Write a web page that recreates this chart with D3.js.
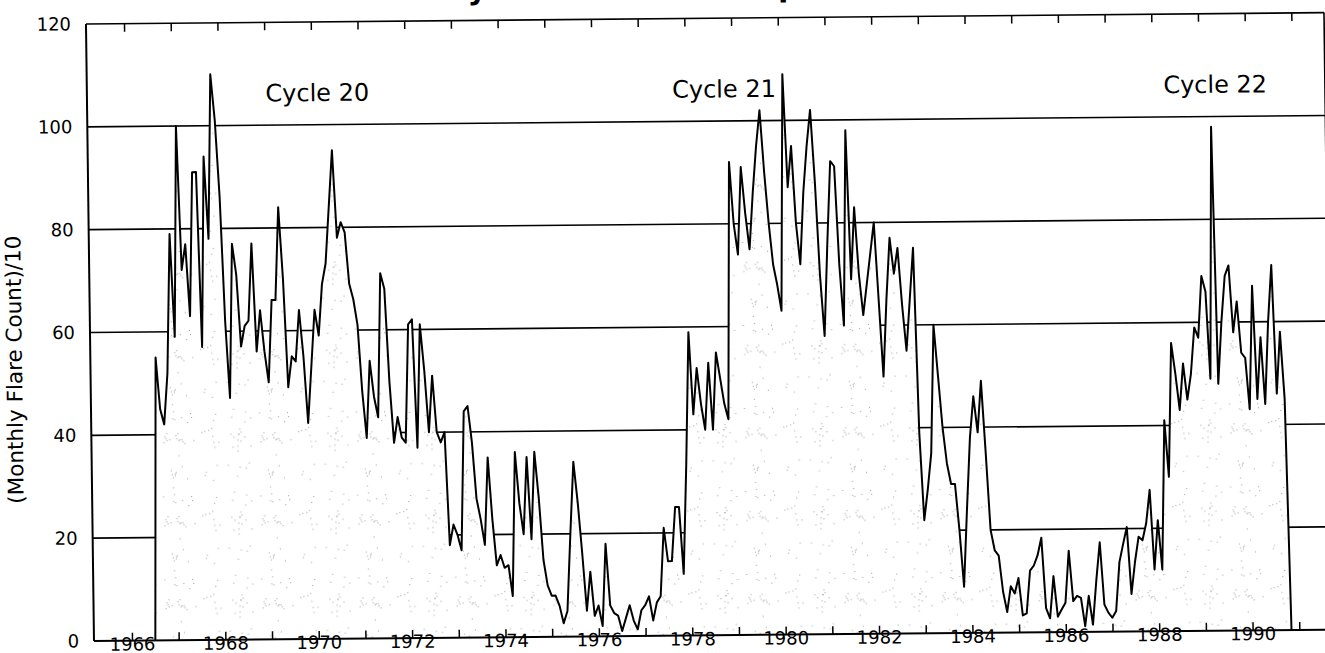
<!DOCTYPE html>
<html>
<head>
<meta charset="utf-8">
<script src="https://cdn.jsdelivr.net/npm/d3@7"></script>
<style>
  html, body { margin: 0; padding: 0; background: #fff; overflow: hidden; }
  text { font-family: "DejaVu Sans", sans-serif; fill: #000; }
</style>
</head>
<body>
<svg id="chart" width="1325" height="653"></svg>
<script>
// Monthly flare counts divided by 10, one value per month starting July 1966
const startYear = 1966;
const startMonth = 7;
const flareCounts = [
  0, 55, 45, 42, 52, 79, 59, 100, 72, 77, 63, 91,
  91, 57, 94, 78, 110, 101, 86, 62, 47, 77, 71, 57,
  61, 62, 77, 56, 64, 56, 50, 66, 66, 84, 70, 49,
  55, 54, 64, 55, 42, 53, 64, 59, 69, 73, 84, 95,
  78, 81, 79, 69, 66, 61, 48, 39, 54, 47, 43, 71,
  68, 50, 38, 43, 39, 38, 61, 62, 37, 61, 52, 40,
  51, 40, 38, 40, 18, 22, 20, 17, 44, 45, 38, 27,
  23, 18, 35, 23, 14, 16, 13.5, 14, 8, 36, 26, 20,
  35, 19, 36, 27, 15, 10, 8, 8, 6, 2.6, 5, 20,
  34, 26, 16, 5, 12.6, 4, 6, 2, 18, 6, 4.5, 4,
  1, 3.5, 6, 3, 1.3, 5, 6, 7.7, 3, 6.5, 7.7, 21,
  14.5, 14.5, 25, 25, 12, 33, 59, 43, 52, 45, 40, 53,
  40, 55, 50, 45, 42, 92, 80, 74, 91, 82, 75, 86,
  95, 102, 90, 80, 72, 68, 63, 109, 87, 95, 80, 72,
  86, 95, 102, 88, 70, 58, 76, 92, 91, 72, 60, 98,
  69, 83, 70, 62, 68, 74, 80, 65, 50, 65, 77, 70,
  75, 64, 55, 65, 75, 39, 22, 28, 35, 60, 50, 40,
  33, 29, 29, 20, 9, 24, 38, 46, 39, 49, 35, 20,
  16, 15, 8, 4, 9, 7.6, 10.6, 3.3, 3.7, 12, 13, 15,
  18.4, 4.7, 2.7, 10.9, 3, 4.4, 5.7, 15.8, 6, 7, 6.6, 1.1,
  7, 1.4, 10, 17.4, 5.3, 3.7, 2.7, 4, 13.5, 17, 20.3, 7.3,
  13.5, 18.4, 17.7, 21, 27.5, 12, 21.6, 12, 41, 30, 56, 50,
  43, 52, 45, 50, 59, 57, 69, 66, 49, 98, 48, 60,
  69, 71, 58, 64, 54, 53, 43, 67, 45, 57, 44, 60,
  71, 46, 58, 45, 0
];

const yTicks = [0, 20, 40, 60, 80, 100, 120];
const yearTicks = d3.range(1966, 1992);
const yearLabels = [1966, 1968, 1970, 1972, 1974, 1976, 1978, 1980, 1982, 1984, 1986, 1988, 1990];
const cycleNames = ["Cycle 20", "Cycle 21", "Cycle 22"];
const cycleYears = [1970.12, 1978.83, 1989.35];
const cycleLevel = 104.6;
const titleText = "Monthly Flare Count Comparison";
const yTitle = "(Monthly Flare Count)/10";

const series = flareCounts.map((v, i) => ({ t: startYear + (startMonth - 1 + i) / 12, v }));

const plot = { left: 94, right: 1332, top: 24, bottom: 641 };
const x = d3.scaleLinear().domain([1965.186, 1991.7]).range([plot.left, plot.right]);
const y = d3.scaleLinear().domain([0, 120]).range([plot.bottom, plot.top]);

const svg = d3.select("#chart");
const defs = svg.append("defs");

// light stipple texture for the area under the curve (integer hash, no lattice look)
const tileW = 97, tileH = 83, dotCount = 70;
const pat = defs.append("pattern")
  .attr("id", "stipple")
  .attr("patternUnits", "userSpaceOnUse")
  .attr("width", tileW).attr("height", tileH);
pat.append("rect").attr("width", tileW).attr("height", tileH).attr("fill", "#fff");
function hash(n) {
  n = (n ^ 61) ^ (n >>> 16);
  n = Math.imul(n, 9);
  n = n ^ (n >>> 4);
  n = Math.imul(n, 0x27d4eb2d);
  n = n ^ (n >>> 15);
  return (n >>> 0) / 4294967296;
}
d3.range(dotCount).forEach(k => {
  pat.append("rect")
    .attr("x", Math.floor(hash(k * 2 + 11) * tileW))
    .attr("y", Math.floor(hash(k * 2 + 12) * tileH))
    .attr("width", 1).attr("height", 1)
    .attr("fill", "#9c9c9c");
});

defs.append("clipPath").attr("id", "plotClip")
  .append("rect")
  .attr("x", plot.left).attr("y", plot.top)
  .attr("width", plot.right - plot.left).attr("height", plot.bottom - plot.top);

// whole figure sits on a slightly skewed page
const g = svg.append("g")
  .attr("transform",
    `translate(${plot.left},${plot.bottom}) matrix(1,-0.0092,0.013,1,0,0) translate(${-plot.left},${-plot.bottom})`);

// title (runs off the top edge of the page)
g.append("text")
  .attr("x", 358).attr("y", 2.5)
  .style("font-size", "30px").style("font-weight", "bold")
  .text(titleText);

// horizontal grid lines
g.append("g").selectAll("line")
  .data(yTicks.filter(v => v > 0 && v < 120))
  .join("line")
  .attr("x1", plot.left).attr("x2", plot.right)
  .attr("y1", d => y(d)).attr("y2", d => y(d))
  .attr("stroke", "#000").attr("stroke-width", 1.6);

// area under the curve hides the grid
const area = d3.area().x(d => x(d.t)).y0(y(0)).y1(d => y(d.v));
const line = d3.line().x(d => x(d.t)).y(d => y(d.v));

const plotG = g.append("g").attr("clip-path", "url(#plotClip)");
plotG.append("path").datum(series)
  .attr("d", area)
  .attr("fill", "url(#stipple)");
plotG.append("path").datum(series)
  .attr("d", line)
  .attr("fill", "none")
  .attr("stroke", "#000")
  .attr("stroke-width", 2)
  .attr("stroke-linejoin", "round");

// frame
const frame = g.append("g").attr("stroke", "#000").attr("fill", "none");
frame.append("line").attr("x1", plot.left).attr("x2", plot.left).attr("y1", plot.top).attr("y2", plot.bottom).attr("stroke-width", 2);
frame.append("line").attr("x1", plot.left).attr("x2", plot.right).attr("y1", plot.bottom).attr("y2", plot.bottom).attr("stroke-width", 2);
frame.append("line").attr("x1", plot.left).attr("x2", plot.right).attr("y1", plot.top).attr("y2", plot.top).attr("stroke-width", 1.6);
frame.append("line").attr("x1", plot.right).attr("x2", plot.right).attr("y1", plot.top).attr("y2", plot.bottom).attr("stroke-width", 1.6);

// bottom axis: inward year ticks, labels on even years
const xAxis = d3.axisBottom(x)
  .tickValues(yearTicks)
  .tickSizeInner(-8).tickSizeOuter(0)
  .tickPadding(-3)
  .tickFormat(d => yearLabels.includes(d) ? String(d) : "");
const gx = g.append("g").attr("transform", `translate(0,${plot.bottom})`).call(xAxis);
gx.select(".domain").remove();
gx.selectAll(".tick line").attr("stroke", "#000").attr("stroke-width", 1.5);
gx.selectAll(".tick text").style("font-size", "18px").style("font-family", "DejaVu Sans").attr("fill", "#000");

// top axis: inward ticks only
const xTop = d3.axisTop(x).tickValues(yearTicks).tickSizeInner(-8).tickSizeOuter(0).tickFormat("");
const gt = g.append("g").attr("transform", `translate(0,${plot.top})`).call(xTop);
gt.select(".domain").remove();
gt.selectAll(".tick line").attr("stroke", "#000").attr("stroke-width", 1.5);

// left axis labels
const yAxis = d3.axisLeft(y).tickValues(yTicks).tickSize(0).tickPadding(15);
const gy = g.append("g").attr("transform", `translate(${plot.left},0)`).call(yAxis);
gy.select(".domain").remove();
gy.selectAll(".tick text").style("font-size", "18px").style("font-family", "DejaVu Sans").attr("fill", "#000");

// y axis title
g.append("text")
  .attr("transform", "translate(25.5,369) rotate(-90)")
  .attr("text-anchor", "middle")
  .style("font-size", "21.5px")
  .text(yTitle);

// solar cycle annotations
g.append("g").selectAll("text")
  .data(cycleNames)
  .join("text")
  .attr("x", (d, i) => x(cycleYears[i]))
  .attr("y", y(cycleLevel))
  .attr("text-anchor", "middle")
  .style("font-size", "24px")
  .text(d => d);
</script>
</body>
</html>
